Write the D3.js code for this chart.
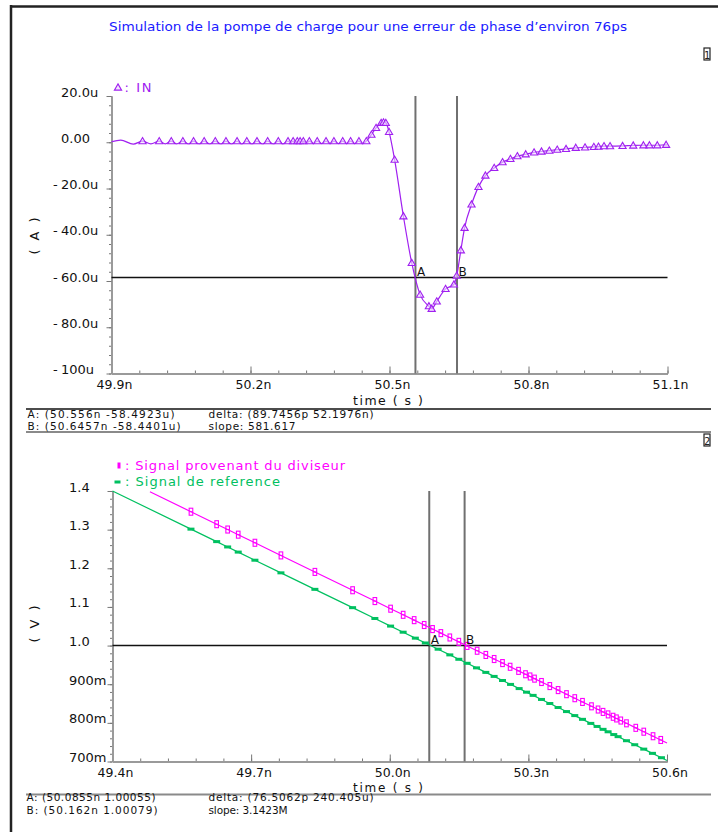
<!DOCTYPE html>
<html><head><meta charset="utf-8">
<script src="https://cdn.jsdelivr.net/npm/d3@7"></script>
<style>
body{margin:0;background:#fff;}
svg{display:block;}
text{font-family:"DejaVu Sans",sans-serif;}
</style></head><body>
<svg id="c" width="718" height="832"></svg>
<script>
// ---------- DATA ----------
const title = "Simulation de la pompe de charge pour une erreur de phase d\u2019environ 76ps";

// Top plot: current IN (uA) vs time (ns)
const inStartT = [49.900, 49.920, 49.947];
const inStartV = [0.2, 0.9, -0.8];
const inMarkT = [49.967, 50.003, 50.029, 50.054, 50.077, 50.100, 50.124, 50.147, 50.171, 50.192,
  50.214, 50.237, 50.260, 50.281, 50.292, 50.301, 50.307, 50.314, 50.327, 50.344,
  50.363, 50.380, 50.399, 50.416, 50.434, 50.450,
  50.461, 50.471, 50.482, 50.487, 50.492, 50.499, 50.511, 50.530, 50.548, 50.566,
  50.585, 50.591, 50.602, 50.621, 50.639, 50.645, 50.654, 50.662, 50.677, 50.692,
  50.707, 50.726, 50.744, 50.761, 50.776, 50.794, 50.812, 50.828, 50.845, 50.862,
  50.881, 50.902, 50.922, 50.941, 50.951, 50.963, 50.976, 51.003, 51.026, 51.048,
  51.061, 51.078, 51.097];
const inMarkV = [0.5, 0.5, 0.5, 0.5, 0.5, 0.5, 0.5, 0.5, 0.5, 0.5,
  0.5, 0.5, 0.5, 0.5, 0.5, 0.5, 0.5, 0.5, 0.5, 0.5,
  0.5, 0.5, 0.5, 0.5, 0.5, 0.5,
  3.3, 6.2, 8.4, 8.6, 8.4, 4.5, -7.5, -32, -52.2, -65.9,
  -70.9, -72, -68.8, -63.4, -61.5, -57.7, -46.7, -37, -26.9, -19.3,
  -14.4, -11.1, -8.6, -7.2, -6.0, -5.2, -4.4, -4.0, -3.6, -3.2,
  -2.9, -2.4, -2.2, -2.0, -1.9, -1.7, -1.7, -1.6, -1.4, -1.3,
  -1.3, -1.3, -1.1];
const inTroughT = [49.985, 50.016, 50.041, 50.066, 50.089, 50.112, 50.136, 50.159, 50.181, 50.203,
  50.226, 50.249, 50.270, 50.287, 50.297, 50.304, 50.311, 50.321, 50.336, 50.354,
  50.372, 50.390, 50.408, 50.425, 50.442];
const inTroughV = [-0.7, -0.7, -0.7, -0.7, -0.7, -0.7, -0.7, -0.7, -0.7, -0.7,
  -0.7, -0.7, -0.7, -0.2, -0.2, -0.2, -0.2, -0.5, -0.6, -0.6,
  -0.6, -0.6, -0.6, -0.6, -0.6];
const inEndT = [51.100];
const inEndV = [-1.1];

const topYTicks = [20, 0, -20, -40, -60, -80, -100];
const topYLabels = ["20.0u", "0.00", "-20.0u", "-40.0u", "-60.0u", "-80.0u", "-100u"];
const topXTicks = [49.9, 50.2, 50.5, 50.8, 51.1];
const topXLabels = ["49.9n", "50.2n", "50.5n", "50.8n", "51.1n"];
const topCursors = [50.556, 50.6457];
const topCursorNames = ["A", "B"];
const topHLine = -58.49;
const topInfo = ["A: (50.556n -58.4923u)", "B: (50.6457n -58.4401u)", "delta: (89.7456p 52.1976n)", "slope: 581.617"];

// Bottom plot: voltages (V) vs time (ns)
const divT = [49.481, 49.5698, 49.6254, 49.6492, 49.6721, 49.7082, 49.7645, 49.838, 49.9196, 49.9678,
  50.0018, 50.029, 50.0528, 50.0745, 50.0926, 50.1106, 50.13, 50.1495, 50.1675, 50.1891,
  50.2079, 50.2259, 50.244, 50.2605, 50.2787, 50.2938, 50.3037, 50.3133, 50.3284, 50.3464,
  50.3643, 50.3825, 50.4004, 50.4171, 50.4366, 50.4508, 50.4616, 50.4725, 50.4833, 50.4906,
  50.5, 50.5123, 50.5324, 50.5497, 50.5698, 50.5865, 50.6];
const divV = [1.398, 1.3464, 1.3141, 1.3003, 1.2870, 1.2660, 1.2333, 1.1906, 1.1432, 1.1152,
  1.0954, 1.0796, 1.0658, 1.0532, 1.0427, 1.0322, 1.0209, 1.0096, 0.9991, 0.9866,
  0.9757, 0.9652, 0.9547, 0.9451, 0.9345, 0.9258, 0.9200, 0.9144, 0.9057, 0.8952,
  0.8848, 0.8742, 0.8638, 0.8541, 0.8428, 0.8345, 0.8283, 0.8219, 0.8157, 0.8114,
  0.8060, 0.7988, 0.7871, 0.7771, 0.7654, 0.7557, 0.7479];
const refT = [49.4, 49.5698, 49.6254, 49.6492, 49.6721, 49.7082, 49.7645, 49.838, 49.9196, 49.9678,
  50.0018, 50.029, 50.0554, 50.077, 50.1047, 50.13, 50.1495, 50.1675, 50.1878, 50.2079,
  50.2259, 50.244, 50.2614, 50.28, 50.296, 50.3103, 50.3284, 50.3464, 50.3643, 50.3825,
  50.4004, 50.4171, 50.4351, 50.4487, 50.4616, 50.4725, 50.4848, 50.4941, 50.5123, 50.5302,
  50.5497, 50.5685, 50.588, 50.6];
const refV = [1.4, 1.3013, 1.2690, 1.2552, 1.2419, 1.2209, 1.1882, 1.1455, 1.0981, 1.0701,
  1.0504, 1.0346, 1.0192, 1.0067, 0.9906, 0.9759, 0.9645, 0.9541, 0.9423, 0.9306,
  0.9202, 0.9096, 0.8995, 0.8887, 0.8794, 0.8711, 0.8606, 0.8501, 0.8397, 0.8292,
  0.8188, 0.8091, 0.7986, 0.7907, 0.7832, 0.7769, 0.7697, 0.7643, 0.7538, 0.7434,
  0.7320, 0.7211, 0.7098, 0.7028];
const botSeriesNames = ["Signal provenant du diviseur", "Signal de reference"];
const botYTicks = [1.4, 1.3, 1.2, 1.1, 1.0, 0.9, 0.8, 0.7];
const botYLabels = ["1.4", "1.3", "1.2", "1.1", "1.0", "900m", "800m", "700m"];
const botXTicks = [49.4, 49.7, 50.0, 50.3, 50.6];
const botXLabels = ["49.4n", "49.7n", "50.0n", "50.3n", "50.6n"];
const botCursors = [50.0855, 50.162];
const botCursorNames = ["A", "B"];
const botHLine = 1.0;
const botInfo = ["A: (50.0855n 1.00055)", "B: (50.162n 1.00079)", "delta: (76.5062p 240.405u)", "slope: 3.1423M"];

// ---------- DRAWING ----------
const svg = d3.select("#c");
const PURPLE = "#a020f0", MAGENTA = "#ff00ff", GREEN = "#00c060", AXIS = "#9a9a9a", CURS = "#707070";

// frame
svg.append("line").attr("x1", 10).attr("x2", 718).attr("y1", 6.5).attr("y2", 6.5).attr("stroke", "#222").attr("stroke-width", 2.5);
svg.append("line").attr("x1", 11).attr("x2", 11).attr("y1", 5).attr("y2", 832).attr("stroke", "#222").attr("stroke-width", 2.5);

svg.append("text").attr("x", 109).attr("y", 31).attr("fill", "#1a1aff").attr("font-size", 13)
  .attr("textLength", 518).attr("lengthAdjust", "spacingAndGlyphs").text(title);

function boxNum(x, y, n) {
  svg.append("rect").attr("x", x).attr("y", y).attr("width", 6).attr("height", 12)
    .attr("fill", "#fff").attr("stroke", "#222").attr("stroke-width", 1.2);
  svg.append("text").attr("x", x + 3.2).attr("y", y + 10.5).attr("font-size", 10).attr("text-anchor", "middle")
    .attr("fill", "#222").text(n);
}
boxNum(704, 48, "1");
boxNum(704, 434, "2");

function drawAxes(x, y, xTicks, xLabels, xMinorStep, yTicks, yLabels, yMinorStep, labelMode) {
  const [x0, x1] = x.domain(), [y0, y1] = y.domain();
  const xMinor = d3.range(Math.round((x1 - x0) / xMinorStep) + 1).map(i => x0 + i * xMinorStep);
  const yMinor = d3.range(Math.round((y1 - y0) / yMinorStep) + 1).map(i => y0 + i * yMinorStep);
  const yBase = y.range()[0], xBase = x.range()[0];
  // x axis
  const gx = svg.append("g").attr("transform", `translate(0,${yBase})`);
  gx.append("g").call(d3.axisBottom(x).tickValues(xMinor).tickSize(-3).tickSizeOuter(0).tickFormat(""));
  gx.append("g").call(d3.axisBottom(x).tickValues(xTicks).tickSize(-7).tickSizeOuter(0).tickFormat(""));
  gx.selectAll("path.domain").attr("stroke", AXIS).attr("stroke-width", 2);
  gx.selectAll(".tick line").attr("stroke", "#777").attr("stroke-width", 1);
  xTicks.forEach((t, i) => {
    svg.append("text").attr("x", x(t) + 3).attr("y", yBase + 15.5).attr("text-anchor", "middle")
      .attr("font-size", 12.5).attr("fill", "#111").text(xLabels[i]);
  });
  // y axis
  const gy = svg.append("g").attr("transform", `translate(${xBase},0)`);
  gy.append("g").call(d3.axisLeft(y).tickValues(yMinor).tickSize(2.5).tickSizeOuter(0).tickFormat(""));
  gy.append("g").call(d3.axisLeft(y).tickValues(yTicks).tickSize(5).tickSizeOuter(0).tickFormat(""));
  gy.selectAll("path.domain").attr("stroke", AXIS).attr("stroke-width", 2);
  gy.selectAll(".tick line").attr("stroke", "#777").attr("stroke-width", 1);
  yTicks.forEach((t, i) => {
    const lab = yLabels[i];
    const tx = svg.append("text").attr("y", y(t) + 0.5).attr("font-size", 13).attr("fill", "#111");
    if (labelMode === "top") {
      if (lab[0] === "-") {
        tx.append("tspan").attr("x", 53).text("-");
        tx.append("tspan").attr("x", 61).text(lab.slice(1));
      } else tx.attr("x", 61).text(lab);
    } else {
      tx.attr("x", 69).text(lab);
    }
  });
}

// ---------- TOP PLOT ----------
const xT = d3.scaleLinear([49.9, 51.1], [111.5, 667.5]);
const yT = d3.scaleLinear([-100, 20], [373.5, 96]);
drawAxes(xT, yT, topXTicks, topXLabels, 0.06, topYTicks, topYLabels, 4, "top");

svg.append("text").attr("transform", "translate(39,236) rotate(-90)").attr("text-anchor", "middle")
  .attr("font-size", 13).attr("textLength", 37).attr("fill", "#111").text("( A )");
svg.append("text").attr("x", 353).attr("y", 404.5).attr("font-size", 12.5).attr("textLength", 70)
  .attr("fill", "#111").text("time ( s )");

// legend
const tri = "M0,-3.6L3.6,2.6L-3.6,2.6Z";
svg.append("path").attr("d", tri).attr("transform", "translate(118,87.5)").attr("fill", "#f3e6ff")
  .attr("stroke", PURPLE).attr("stroke-width", 1.1);
svg.append("text").attr("x", 124.5).attr("y", 92).attr("font-size", 13).attr("fill", PURPLE)
  .attr("textLength", 27).text(": IN");

// cursors
topCursors.forEach((c, i) => {
  svg.append("line").attr("x1", xT(c)).attr("x2", xT(c)).attr("y1", yT(20)).attr("y2", yT(-100))
    .attr("stroke", CURS).attr("stroke-width", 2);
});
svg.append("line").attr("x1", xT(49.9)).attr("x2", xT(51.1)).attr("y1", yT(topHLine)).attr("y2", yT(topHLine))
  .attr("stroke", "#111").attr("stroke-width", 1.6);

// waveform
const inPts = d3.sort([
  ...inStartT.map((t, i) => ({t, v: inStartV[i]})),
  ...inMarkT.map((t, i) => ({t, v: inMarkV[i]})),
  ...inTroughT.map((t, i) => ({t, v: inTroughV[i]})),
  ...inEndT.map((t, i) => ({t, v: inEndV[i]}))
], d => d.t);
svg.append("path").attr("d", d3.line().x(d => xT(d.t)).y(d => yT(d.v)).curve(d3.curveMonotoneX)(inPts))
  .attr("fill", "none").attr("stroke", PURPLE).attr("stroke-width", 1.2);
svg.append("g").selectAll("path").data(inMarkT).join("path")
  .attr("d", tri).attr("transform", (t, i) => `translate(${xT(t)},${yT(inMarkV[i])})`)
  .attr("fill", "#f3e6ff").attr("fill-opacity", 0.6).attr("stroke", PURPLE).attr("stroke-width", 1.1);

topCursors.forEach((c, i) => {
  svg.append("text").attr("x", xT(c) + 1.5).attr("y", yT(topHLine) - 1.5).attr("font-size", 12)
    .attr("fill", "#111").text(topCursorNames[i]);
});

// info block
svg.append("line").attr("x1", 26).attr("x2", 711).attr("y1", 409).attr("y2", 409).attr("stroke", "#111").attr("stroke-width", 1.5);
svg.append("line").attr("x1", 26).attr("x2", 711).attr("y1", 432).attr("y2", 432).attr("stroke", "#8a8a8a").attr("stroke-width", 2);
const infoAttrs = [[27.5, 417.5, 147], [27.5, 430, 153], [208.5, 417.5, 165], [208.5, 430, 87]];
topInfo.forEach((s, i) => {
  svg.append("text").attr("x", infoAttrs[i][0]).attr("y", infoAttrs[i][1]).attr("font-size", 10.5)
    .attr("textLength", infoAttrs[i][2]).attr("fill", "#111").text(s);
});

// ---------- BOTTOM PLOT ----------
const xB = d3.scaleLinear([49.4, 50.6], [112.5, 667]);
const yB = d3.scaleLinear([0.7, 1.4], [761.5, 491]);
drawAxes(xB, yB, botXTicks, botXLabels, 0.06, botYTicks, botYLabels, 0.02, "bot");

svg.append("text").attr("transform", "translate(39,624) rotate(-90)").attr("text-anchor", "middle")
  .attr("font-size", 13).attr("textLength", 37).attr("fill", "#111").text("( V )");
svg.append("text").attr("x", 353).attr("y", 791.5).attr("font-size", 12).attr("textLength", 70)
  .attr("fill", "#111").text("time ( s )");

// legend
svg.append("rect").attr("x", 117.5).attr("y", 462.5).attr("width", 3).attr("height", 6).attr("fill", MAGENTA);
svg.append("text").attr("x", 125).attr("y", 470).attr("font-size", 13).attr("fill", MAGENTA)
  .attr("textLength", 220).text(": " + botSeriesNames[0]);
svg.append("rect").attr("x", 114.5).attr("y", 480.5).attr("width", 6).attr("height", 3).attr("fill", GREEN);
svg.append("text").attr("x", 125).attr("y", 486).attr("font-size", 13).attr("fill", GREEN)
  .attr("textLength", 155).text(": " + botSeriesNames[1]);

botCursors.forEach((c) => {
  svg.append("line").attr("x1", xB(c)).attr("x2", xB(c)).attr("y1", yB(1.4)).attr("y2", yB(0.7))
    .attr("stroke", CURS).attr("stroke-width", 2);
});
svg.append("line").attr("x1", xB(49.4)).attr("x2", xB(50.6)).attr("y1", yB(botHLine)).attr("y2", yB(botHLine))
  .attr("stroke", "#111").attr("stroke-width", 1.6);

const lineB = d3.line().x(d => xB(d[0])).y(d => yB(d[1]));
svg.append("path").attr("d", lineB(refT.map((t, i) => [t, refV[i]])))
  .attr("fill", "none").attr("stroke", GREEN).attr("stroke-width", 1.2);
svg.append("path").attr("d", lineB(divT.map((t, i) => [t, divV[i]])))
  .attr("fill", "none").attr("stroke", MAGENTA).attr("stroke-width", 1.2);

// markers (endpoints excluded)
const gRef = svg.append("g");
refT.slice(1, -1).forEach((t, i) => {
  gRef.append("rect").attr("x", xB(t) - 3.5).attr("y", yB(refV[i + 1]) - 1.5).attr("width", 7).attr("height", 3)
    .attr("fill", GREEN);
});
const gDiv = svg.append("g");
divT.slice(1, -1).forEach((t, i) => {
  const cx = xB(t), cy = yB(divV[i + 1]);
  gDiv.append("rect").attr("x", cx - 1.8).attr("y", cy - 3.5).attr("width", 3.6).attr("height", 7)
    .attr("fill", "none").attr("stroke", MAGENTA).attr("stroke-width", 1.1);
  gDiv.append("line").attr("x1", cx - 1.8).attr("x2", cx + 1.8).attr("y1", cy).attr("y2", cy)
    .attr("stroke", MAGENTA).attr("stroke-width", 1);
});

botCursors.forEach((c, i) => {
  svg.append("text").attr("x", xB(c) + 1.5).attr("y", yB(botHLine) - 1.5).attr("font-size", 12)
    .attr("fill", "#111").text(botCursorNames[i]);
});

svg.append("line").attr("x1", 26).attr("x2", 711).attr("y1", 794.5).attr("y2", 794.5).attr("stroke", "#8a8a8a").attr("stroke-width", 2);
const infoAttrsB = [[26.5, 801, 129], [26.5, 813.5, 131], [208.5, 801, 165], [208.5, 813.5, 79]];
botInfo.forEach((s, i) => {
  svg.append("text").attr("x", infoAttrsB[i][0]).attr("y", infoAttrsB[i][1]).attr("font-size", 10.5)
    .attr("textLength", infoAttrsB[i][2]).attr("fill", "#111").text(s);
});
</script></body></html>
